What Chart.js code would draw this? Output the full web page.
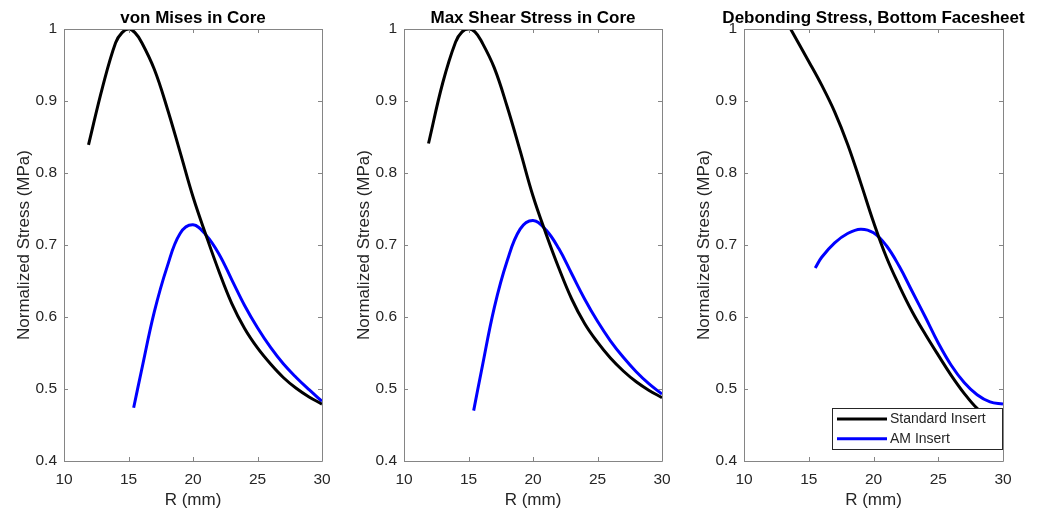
<!DOCTYPE html>
<html>
<head>
<meta charset="utf-8">
<script src="https://cdn.jsdelivr.net/npm/chart.js@4.4.1/dist/chart.umd.min.js"></script>
<style>
  body { margin: 0; background: #fff; }
  .panel { position: absolute; top: 0; }
</style>
</head>
<body>
<div class="panel" style="left:0"><canvas id="vm" width="340" height="511"></canvas></div>
<div class="panel" style="left:340px"><canvas id="shear" width="340" height="511"></canvas></div>
<div class="panel" style="left:680px"><canvas id="debond" width="365" height="511"></canvas></div>
<script>
// R (mm) sample positions
const rStd = [11.9, 13, 14, 14.5, 15, 15.5, 16, 17, 18, 19, 20, 21, 22, 23, 24, 25, 26, 27, 28, 29, 30];
const rAM = [15.4, 16, 17, 18, 19, 20, 21, 22, 23, 24, 25, 26, 27, 28, 29, 30];
const rStdDebond = [13.6, 15, 16, 17, 18, 19, 20, 21, 22, 23, 24, 25, 26, 27, 28, 29, 30];
const rAMDebond = [15.5, 16, 17, 18, 19, 20, 21, 22, 23, 24, 25, 26, 27, 28, 29, 30];

// normalized stress
const vmStd = [0.839, 0.92, 0.981, 0.995, 1.0, 0.995, 0.982, 0.944, 0.89, 0.829, 0.767, 0.714, 0.664, 0.619, 0.584, 0.557, 0.535, 0.516, 0.501, 0.489, 0.479];
const vmAM = [0.474, 0.525, 0.607, 0.67, 0.716, 0.728, 0.714, 0.688, 0.652, 0.616, 0.585, 0.558, 0.535, 0.516, 0.499, 0.483];
const shearStd = [0.841, 0.925, 0.982, 0.996, 1.0, 0.996, 0.983, 0.946, 0.892, 0.831, 0.768, 0.716, 0.668, 0.625, 0.591, 0.565, 0.543, 0.525, 0.51, 0.498, 0.488];
const shearAM = [0.47, 0.525, 0.613, 0.678, 0.722, 0.734, 0.721, 0.695, 0.66, 0.625, 0.594, 0.567, 0.544, 0.524, 0.507, 0.493];
const debondStd = [1.0, 0.955, 0.922, 0.885, 0.84, 0.787, 0.732, 0.683, 0.643, 0.607, 0.576, 0.547, 0.519, 0.494, 0.473, 0.459, 0.453];
const debondAM = [0.668, 0.683, 0.703, 0.716, 0.722, 0.717, 0.699, 0.67, 0.635, 0.6, 0.564, 0.533, 0.509, 0.492, 0.482, 0.479];

const xTicks = [10, 15, 20, 25, 30];
const seriesNames = ["Standard Insert", "AM Insert"];

const font = "'Liberation Sans', Arial, sans-serif";
const textCol = "#262626";
const axisCol = "#858585";

const toPts = (xs, ys) => xs.map((x, i) => ({ x, y: ys[i] }));

// title over the axes, box with inward ticks on all four sides, optional legend
const frame = {
  id: "frame",
  afterDatasetsDraw(chart) {
    const { ctx, chartArea: a, scales: { x, y } } = chart;
    const opts = chart.options.plugins.frame;
    ctx.save();
    ctx.strokeStyle = axisCol;
    ctx.lineWidth = 1;
    ctx.beginPath();
    ctx.rect(a.left + 0.5, a.top + 0.5, a.right - a.left, a.bottom - a.top);
    x.ticks.forEach((t) => {
      const px = Math.round(x.getPixelForValue(t.value)) + 0.5;
      ctx.moveTo(px, a.bottom); ctx.lineTo(px, a.bottom - 4);
      ctx.moveTo(px, a.top); ctx.lineTo(px, a.top + 4);
    });
    y.ticks.forEach((t) => {
      const py = Math.round(y.getPixelForValue(t.value)) + 0.5;
      ctx.moveTo(a.left, py); ctx.lineTo(a.left + 4, py);
      ctx.moveTo(a.right, py); ctx.lineTo(a.right - 4, py);
    });
    ctx.stroke();

    ctx.fillStyle = "#000";
    ctx.font = "bold 17px " + font;
    ctx.textAlign = "center";
    ctx.textBaseline = "middle";
    ctx.fillText(opts.title, (a.left + a.right) / 2, 18.5);

    if (opts.legend) {
      const bx = a.right - 171, by = a.bottom - 53;
      ctx.fillStyle = "#fff";
      ctx.fillRect(bx, by, 170, 41);
      ctx.strokeStyle = textCol;
      ctx.strokeRect(bx + 0.5, by + 0.5, 170, 41);
      ctx.font = "14px " + font;
      ctx.textAlign = "left";
      chart.data.datasets.forEach((ds, i) => {
        const ly = by + 11 + i * 19.7;
        ctx.strokeStyle = ds.borderColor;
        ctx.lineWidth = 3;
        ctx.beginPath();
        ctx.moveTo(bx + 5, ly); ctx.lineTo(bx + 55, ly);
        ctx.stroke();
        ctx.fillStyle = textCol;
        ctx.fillText(ds.label, bx + 58, ly);
      });
    }
    ctx.restore();
  },
};

function makeChart(id, title, stdPts, amPts, rightPad, legend) {
  new Chart(document.getElementById(id), {
    type: "line",
    data: {
      datasets: [
        { label: seriesNames[0], data: stdPts, borderColor: "#000000", borderWidth: 3, pointRadius: 0, tension: 0.4 },
        { label: seriesNames[1], data: amPts, borderColor: "#0000ff", borderWidth: 3, pointRadius: 0, tension: 0.4 },
      ],
    },
    options: {
      responsive: false,
      animation: false,
      layout: { padding: { left: 0, right: rightPad, top: 29, bottom: 0 } },
      plugins: {
        legend: { display: false },
        tooltip: { enabled: false },
        title: { display: false },
        frame: { title, legend },
      },
      scales: {
        x: {
          type: "linear",
          min: 10,
          max: 30,
          afterBuildTicks: (s) => { s.ticks = xTicks.map((v) => ({ value: v })); },
          afterFit: (s) => { s.height = 50; },
          grid: { display: false, drawTicks: false },
          border: { display: false },
          ticks: { color: textCol, font: { family: font, size: 15.5 }, padding: 9, maxRotation: 0 },
          title: { display: true, text: "R (mm)", color: textCol, font: { family: font, size: 17 }, padding: { top: 0, bottom: 0 } },
        },
        y: {
          min: 0.4,
          max: 1,
          afterFit: (s) => { s.width = 64; },
          grid: { display: false, drawTicks: false },
          border: { display: false },
          ticks: {
            stepSize: 0.1,
            color: textCol,
            font: { family: font, size: 15.5 },
            padding: 7,
            callback: (v) => String(+v.toFixed(2)),
          },
          title: { display: true, text: "Normalized Stress (MPa)", color: textCol, font: { family: font, size: 17 }, padding: { top: 14, bottom: 0 } },
        },
      },
    },
    plugins: [frame],
  });
}

makeChart("vm", "von Mises in Core", toPts(rStd, vmStd), toPts(rAM, vmAM), 18, false);
makeChart("shear", "Max Shear Stress in Core", toPts(rStd, shearStd), toPts(rAM, shearAM), 18, false);
makeChart("debond", "Debonding Stress, Bottom Facesheet", toPts(rStdDebond, debondStd), toPts(rAMDebond, debondAM), 42, true);
</script>
</body>
</html>
